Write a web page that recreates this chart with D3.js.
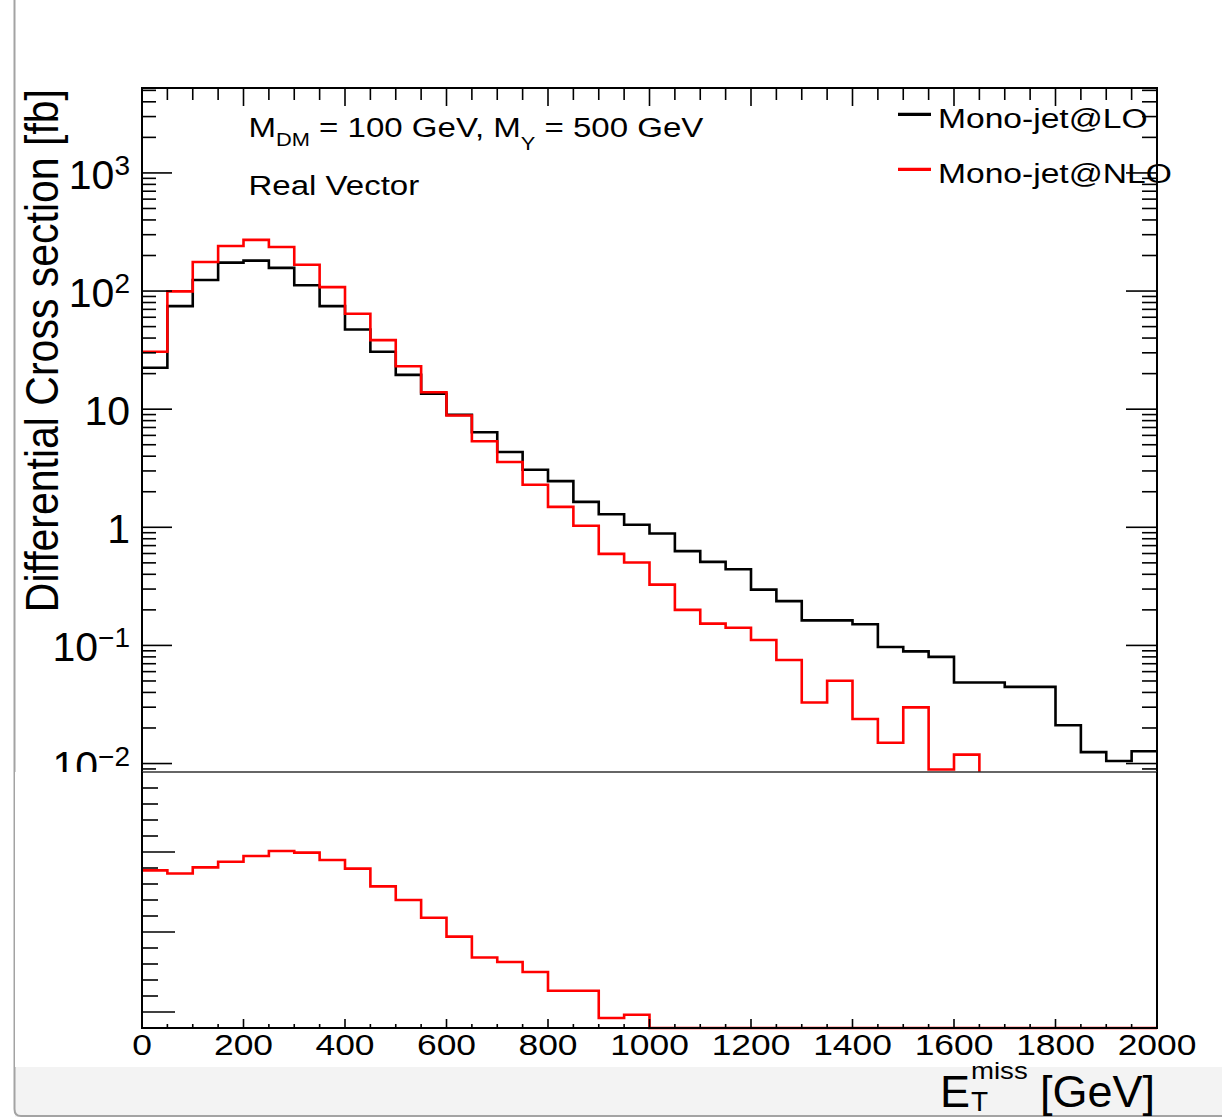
<!DOCTYPE html>
<html>
<head>
<meta charset="utf-8">
<title>Mono-jet MET</title>
<style>
body { margin: 0; background: #fff; }
svg text { font-family: 'Liberation Sans', Arial, Helvetica, sans-serif; fill: #000; }
.frame { stroke: #000; stroke-width: 2; fill: none; }
.tick { stroke: #000; stroke-width: 1.6; }
.hist { fill: none; stroke-width: 2.6; }
</style>
</head>
<body>
<svg width="1222" height="1117"></svg>
<script src="https://d3js.org/d3.v7.min.js"></script>
<script>
// bin edges of the missing-ET histogram (GeV)
var binEdges = [0, 50, 100, 150, 200, 250, 300, 350, 400, 450, 500, 550, 600, 650, 700, 750,
  800, 850, 900, 950, 1000, 1050, 1100, 1150, 1200, 1250, 1300, 1350, 1400, 1450, 1500,
  1550, 1600, 1650, 1700, 1750, 1800, 1850, 1900, 1950, 2000];

// Mono-jet@LO, fb
var loValues = [22.4, 74.6, 124, 174, 181, 157, 112, 74.6, 47.3, 30.6, 19.5, 13.5, 8.95, 6.37,
  4.34, 3.07, 2.46, 1.64, 1.29, 1.05, 0.886, 0.628, 0.510, 0.442, 0.297, 0.237, 0.163, 0.163,
  0.151, 0.097, 0.089, 0.080, 0.0486, 0.0486, 0.0446, 0.0446, 0.0211, 0.0125, 0.0105, 0.0127];

// Mono-jet@NLO, fb (empty above 1650)
var nloValues = [30.6, 99.4, 176, 241, 271, 236, 167, 108, 64.3, 38.4, 23.1, 13.9, 8.83, 5.35,
  3.57, 2.29, 1.49, 1.03, 0.596, 0.503, 0.327, 0.200, 0.153, 0.141, 0.111, 0.0752, 0.0329, 0.0502,
  0.0238, 0.0150, 0.0299, 0.0089, 0.0119, null, null, null, null, null, null, null];

// lower panel, NLO / LO
var ratioValues = [1.385, 1.366, 1.404, 1.439, 1.475, 1.506, 1.496, 1.45, 1.396, 1.285, 1.2, 1.089,
  0.971, 0.841, 0.8125, 0.75, 0.633, 0.633, 0.4625, 0.483, 0.37, 0.32, 0.30, 0.32, 0.37, 0.32,
  0.20, 0.31, 0.16, 0.15, 0.34, 0.11, 0.24, 0, 0, 0, 0, 0, 0, 0];

var xTickLabels = [0, 200, 400, 600, 800, 1000, 1200, 1400, 1600, 1800, 2000];
var yTickValues = [0.01, 0.1, 1, 10, 100, 1000];
var yTickBase = ["10", "10", "1", "10", "10", "10"];
var yTickExp = ["\u22122", "\u22121", "", "", "2", "3"];
var ratioMajor = [0.5, 1.0, 1.5];
var legendLabels = ["Mono-jet@LO", "Mono-jet@NLO"];
var seriesColors = ["#000000", "#ff0000"];

var svg = d3.select("svg");
var L = 142, R = 1157, T = 88, S = 772, B = 1028;

var x = d3.scaleLinear().domain([0, 2000]).range([L, R]);
var y = d3.scaleLog().domain([0.00848, 5236]).range([S, T]).clamp(true);
var yr = d3.scaleLinear().domain([0.4, 2.0]).range([B, S]).clamp(true);

// screen chrome
svg.append("rect").attr("x", 0).attr("y", 0).attr("width", 1222).attr("height", 1117).attr("fill", "#fff");
svg.append("rect").attr("x", 15).attr("y", 1067).attr("width", 1207).attr("height", 50).attr("fill", "#f3f3f3");
svg.append("path").attr("d", "M14.5,0V1109Q14.5,1116 21,1116H1222")
  .attr("fill", "none").attr("stroke", "#a3a3a3").attr("stroke-width", 2);

// ---------- upper pad ----------
var up = svg.append("g");
svg.append("clipPath").attr("id", "clipUp").append("rect")
  .attr("x", L).attr("y", T).attr("width", R - L).attr("height", S - T);

function stepPoints(vals, floor) {
  var pts = [];
  vals.forEach(function(v, i) {
    if (v == null) return;
    pts.push([binEdges[i], v], [binEdges[i + 1], v]);
    if (i < vals.length - 1 && vals[i + 1] == null) pts.push([binEdges[i + 1], floor]);
  });
  return pts;
}
var line = d3.line().x(function(d) { return x(d[0]); }).y(function(d) { return y(d[1]); });

var hg = up.append("g").attr("clip-path", "url(#clipUp)");
[loValues, nloValues].forEach(function(vals, k) {
  hg.append("path").attr("class", "hist")
    .attr("stroke", seriesColors[k])
    .attr("d", line(stepPoints(vals, y.domain()[0])));
});

// y ticks (log)
var yAll = y.ticks();
function isMajor(v) { return Math.abs(Math.log10(v) - Math.round(Math.log10(v))) < 1e-6; }
up.selectAll(".yl").data(yAll).enter().append("line").attr("class", "tick")
  .attr("x1", L).attr("x2", function(d) { return L + (isMajor(d) ? 30 : 14); })
  .attr("y1", function(d) { return y(d); }).attr("y2", function(d) { return y(d); });
up.selectAll(".yr").data(yAll).enter().append("line").attr("class", "tick")
  .attr("x1", R).attr("x2", function(d) { return R - (isMajor(d) ? 31 : 15); })
  .attr("y1", function(d) { return y(d); }).attr("y2", function(d) { return y(d); });

// top ticks
var xMinor = x.ticks(40), xMajor = x.ticks(10);
up.selectAll(".xt").data(xMinor).enter().append("line").attr("class", "tick")
  .attr("x1", function(d) { return x(d); }).attr("x2", function(d) { return x(d); })
  .attr("y1", T).attr("y2", function(d) { return T + (xMajor.indexOf(d) >= 0 ? 18 : 12); });

// y tick labels
yTickValues.forEach(function(v, i) {
  var t = up.append("text").attr("x", 130).attr("y", y(v) + 16)
    .attr("text-anchor", "end").style("font-size", "41px");
  t.append("tspan").text(yTickBase[i]);
  if (yTickExp[i]) t.append("tspan").attr("dy", -14).style("font-size", "28px").text(yTickExp[i]);
});

up.append("path").attr("class", "frame")
  .attr("d", "M" + L + "," + S + "V" + T + "H" + R + "V" + S);

// y title
up.append("text").attr("transform", "translate(58,89) scale(1.12,1) rotate(-90)")
  .attr("text-anchor", "end").style("font-size", "41px")
  .text("Differential Cross section [fb]");

// annotations
var ann = up.append("g").attr("transform", "translate(248.5,136.7) scale(1.18,1)")
  .append("text").style("font-size", "28px");
ann.append("tspan").text("M");
ann.append("tspan").attr("dy", 9).style("font-size", "18.5px").text("DM");
ann.append("tspan").attr("dy", -9).text(" = 100 GeV, M");
ann.append("tspan").attr("dy", 13).style("font-size", "18.5px").text("Y");
ann.append("tspan").attr("dy", -13).text(" = 500 GeV");
up.append("g").attr("transform", "translate(248.5,195) scale(1.18,1)")
  .append("text").style("font-size", "28px").text("Real Vector");

// legend
var legY = [114.3, 169.3];
legendLabels.forEach(function(lab, i) {
  up.append("line").attr("x1", 898).attr("x2", 931).attr("y1", legY[i]).attr("y2", legY[i])
    .attr("stroke", seriesColors[i]).attr("stroke-width", 3.2);
  up.append("g").attr("transform", "translate(938," + (legY[i] + 13.5) + ") scale(1.2,1)")
    .append("text").style("font-size", "28px").text(lab);
});

// ---------- lower pad ----------
var lo = svg.append("g");
lo.append("rect").attr("x", 15).attr("y", S).attr("width", 1207).attr("height", 1067 - S).attr("fill", "#fff");

var rline = d3.line().x(function(d) { return x(d[0]); }).y(function(d) { return yr(d[1]); });
var rpts = [];
ratioValues.forEach(function(v, i) { rpts.push([binEdges[i], v], [binEdges[i + 1], v]); });
lo.append("path").attr("class", "hist").attr("stroke", seriesColors[1]).attr("d", rline(rpts));

var rTicks = yr.ticks(16).filter(function(d) { return d > 0.41 && d < 1.99; });
lo.selectAll(".rt").data(rTicks).enter().append("line").attr("class", "tick")
  .attr("x1", L).attr("x2", function(d) {
    return L + (ratioMajor.some(function(m) { return Math.abs(m - d) < 1e-6; }) ? 33 : 16);
  })
  .attr("y1", function(d) { return yr(d); }).attr("y2", function(d) { return yr(d); });

lo.selectAll(".bt").data(xMinor).enter().append("line").attr("class", "tick")
  .attr("x1", function(d) { return x(d); }).attr("x2", function(d) { return x(d); })
  .attr("y1", B).attr("y2", function(d) { return B - (xMajor.indexOf(d) >= 0 ? 9 : 4); });

lo.append("line").attr("x1", L).attr("x2", R).attr("y1", S).attr("y2", S)
  .attr("stroke", "#333").attr("stroke-width", 1.3);
lo.append("path").attr("class", "frame")
  .attr("d", "M" + L + "," + S + "V" + B + "H" + R + "V" + S);

xTickLabels.forEach(function(t) {
  lo.append("g").attr("transform", "translate(" + x(t) + ",1055) scale(1.18,1)")
    .append("text").attr("text-anchor", "middle").style("font-size", "30px").text(t);
});

// x title
svg.append("text").attr("x", 940).attr("y", 1107).style("font-size", "45px").text("E");
svg.append("text").attr("x", 971).attr("y", 1111).style("font-size", "28px").text("T");
svg.append("g").attr("transform", "translate(971,1079) scale(1.2,1)")
  .append("text").style("font-size", "23px").text("miss");
svg.append("text").attr("x", 1040).attr("y", 1107).style("font-size", "45px").text("[GeV]");
</script>
</body>
</html>
